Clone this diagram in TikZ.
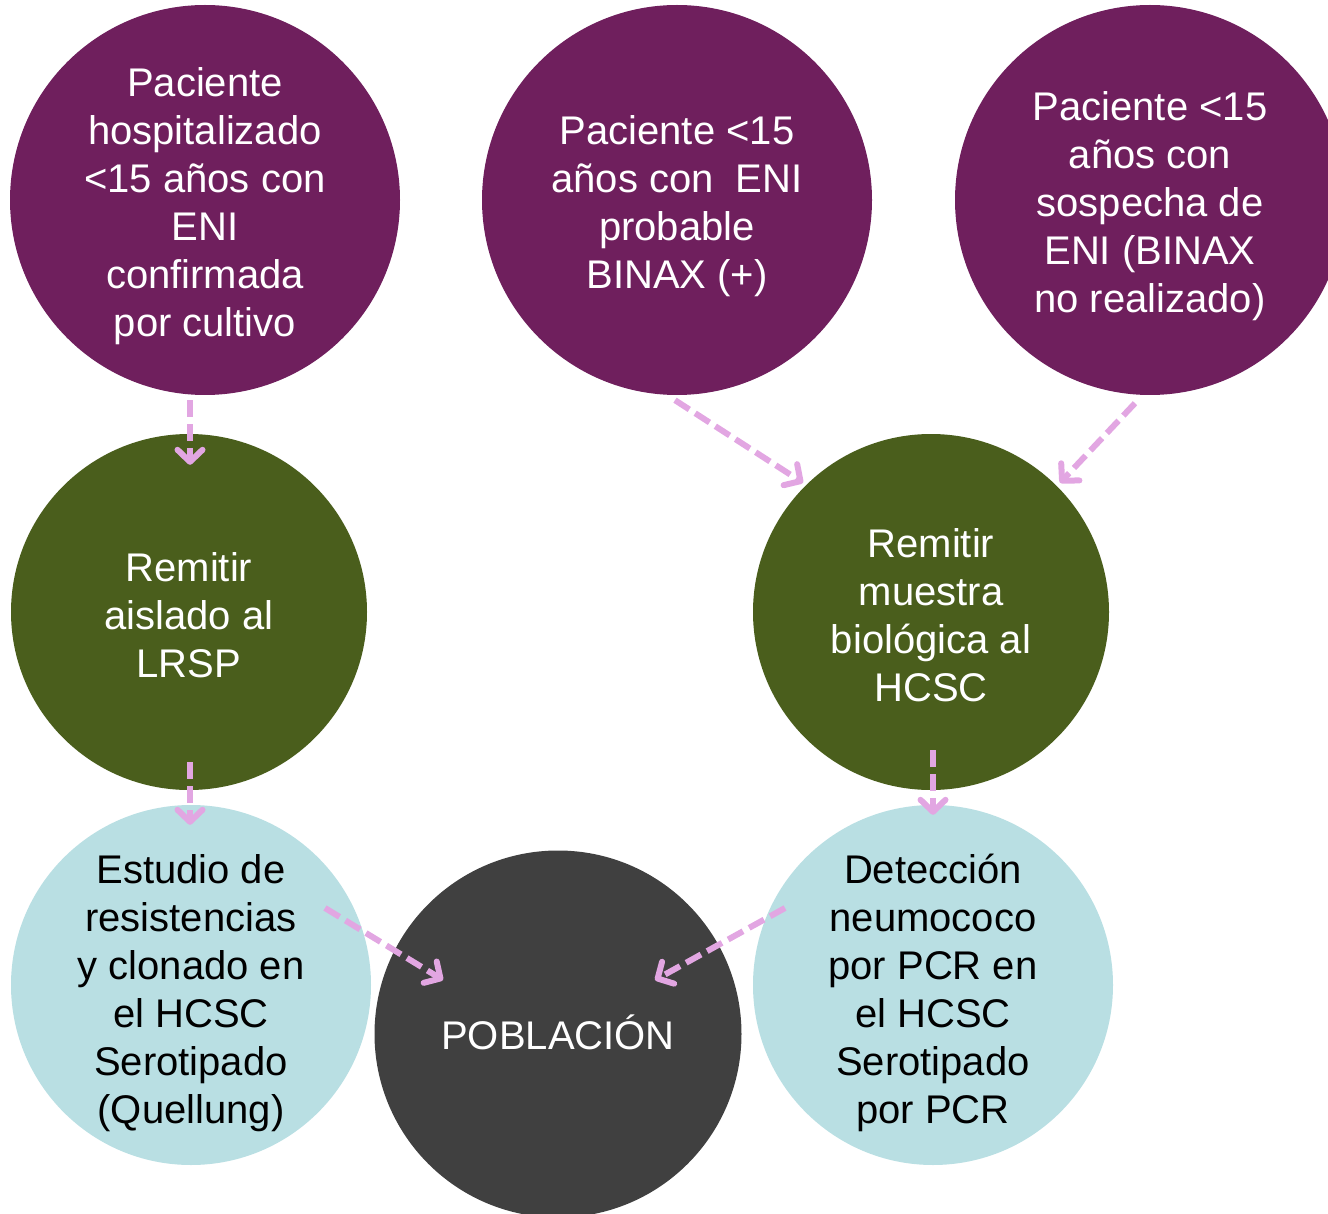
\documentclass[tikz,border=0pt]{standalone}
\usepackage{fontspec}
\setmainfont{Liberation Sans}
\usetikzlibrary{arrows.meta}
\definecolor{cpurple}{HTML}{6F1F5D}
\definecolor{cgreen}{HTML}{4A5E1C}
\definecolor{cblue}{HTML}{B9DFE3}
\definecolor{cgray}{HTML}{404040}
\definecolor{carrow}{HTML}{E2A6E2}
\tikzset{
  bubble/.style={circle,inner sep=0pt},
  txt/.style={inner sep=0pt,align=center,font=\fontsize{40}{48}\selectfont},
  purplebub/.style={bubble,fill=cpurple,minimum size=390pt},
  greenbub/.style={bubble,fill=cgreen,minimum size=356pt},
  bluebub/.style={bubble,fill=cblue,minimum size=360pt},
  graybub/.style={bubble,fill=cgray,minimum size=367pt},
  arr/.style={draw=carrow,line width=6pt,dash pattern=on 17pt off 7pt,
    -{Straight Barb[length=12pt,width=25pt,round]}}
}
\begin{document}
\begin{tikzpicture}[x=1pt,y=1pt]
\useasboundingbox (0,0) rectangle (1328,-1214);
\clip (0,0) rectangle (1328,-1214);
\node[purplebub] (p1) at (205,-200) {};
\node[purplebub] (p2) at (677,-200) {};
\node[purplebub] (p3) at (1150,-200) {};
\node[greenbub] (g1) at (189,-612) {};
\node[greenbub] (g2) at (931,-612) {};
\node[bluebub] (b1) at (191,-985) {};
\node[bluebub] (b2) at (933,-985) {};
\node[graybub] (pob) at (558,-1034) {};
\node[txt,text=white] (p1t) at (205,-206) {Paciente\\hospitalizado\\<15 años con\\ENI\\confirmada\\por cultivo};
\node[txt,text=white] (p2t) at (677,-206) {Paciente <15\\años con~ ENI\\probable\\BINAX (+)};
\node[txt,text=white] (p3t) at (1150,-206) {Paciente <15\\años con\\sospecha de\\ENI (BINAX\\no realizado)};
\node[txt,text=white] (g1t) at (189,-615) {Remitir\\aislado al\\LRSP};
\node[txt,text=white] (g2t) at (931,-615) {Remitir\\muestra\\biológica al\\HCSC};
\node[txt,text=black] (b1t) at (191,-993) {Estudio de\\resistencias\\y clonado en\\el HCSC\\Serotipado\\(Quellung)};
\node[txt,text=black] (b2t) at (933,-993) {Detección\\neumococo\\por PCR en\\el HCSC\\Serotipado\\por PCR};
\node[txt,text=white] (pobt) at (558,-1032) {POBLACIÓN};
\draw[arr] ([shift={(-15,-5)}]p1.south) -- ([shift={(1,-31)}]g1.north);
\draw[arr] ([shift={(1,28)}]g1.south) -- ([shift={(-1,-20)}]b1.north);
\draw[arr] ([shift={(2,40)}]g2.south) -- ([shift={(0,-10)}]b2.north);
\draw[arr] ([shift={(-2,-5)}]p2.south) -- ([shift={(-128,-49)}]g2.north);
\draw[arr] ([shift={(-15,-8)}]p3.south) -- ([shift={(129,-49)}]g2.north);
\draw[arr] ([shift={(134,77)}]b1.center) -- ([shift={(-115,54)}]pob.center);
\draw[arr] ([shift={(-148,77)}]b2.center) -- ([shift={(97,54)}]pob.center);
\end{tikzpicture}
\end{document}
